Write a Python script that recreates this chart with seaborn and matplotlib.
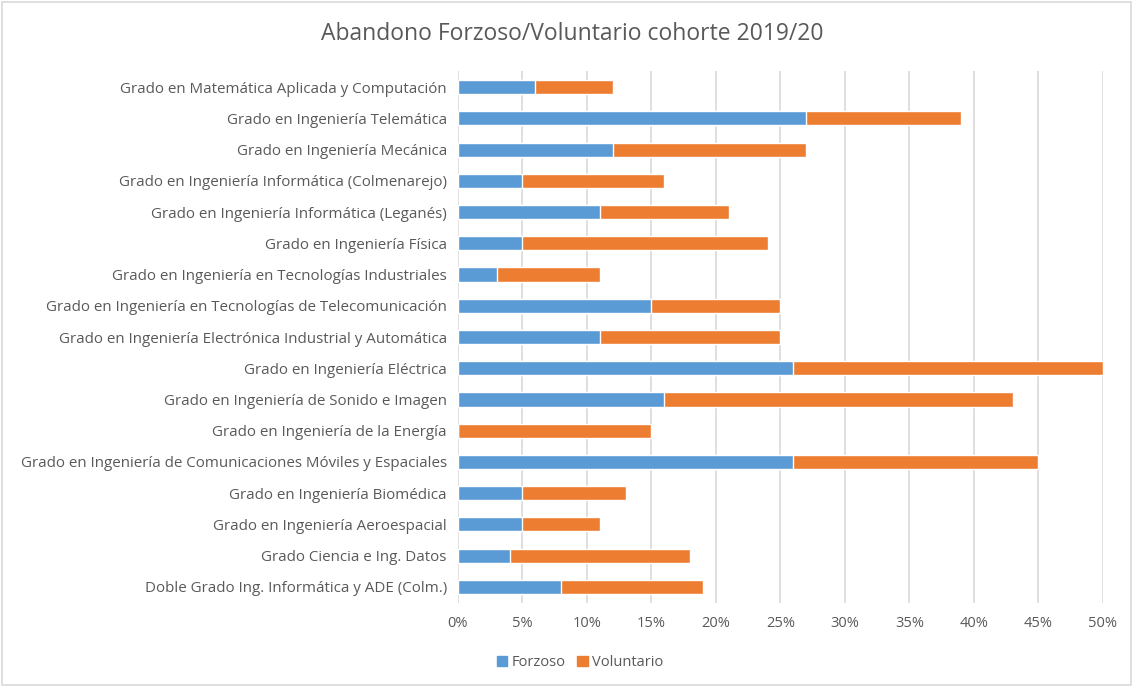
import numpy as np
import pandas as pd
import matplotlib
matplotlib.use("Agg")
import matplotlib.pyplot as plt
from matplotlib.patches import Rectangle, Patch
from matplotlib.ticker import PercentFormatter
import seaborn as sns

grados = [
    "Grado en Matemática Aplicada y Computación",
    "Grado en Ingeniería Telemática",
    "Grado en Ingeniería Mecánica",
    "Grado en Ingeniería Informática (Colmenarejo)",
    "Grado en Ingeniería Informática (Leganés)",
    "Grado en Ingeniería Física",
    "Grado en Ingeniería en Tecnologías Industriales",
    "Grado en Ingeniería en Tecnologías de Telecomunicación",
    "Grado en Ingeniería Electrónica Industrial y Automática",
    "Grado en Ingeniería Eléctrica",
    "Grado en Ingeniería de Sonido e Imagen",
    "Grado en Ingeniería de la Energía",
    "Grado en Ingeniería de Comunicaciones Móviles y Espaciales",
    "Grado en Ingeniería Biomédica",
    "Grado en Ingeniería Aeroespacial",
    "Grado Ciencia e Ing. Datos",
    "Doble Grado Ing. Informática y ADE (Colm.)",
]
forzoso = [6, 27, 12, 5, 11, 5, 3, 15, 11, 26, 16, 0, 26, 5, 5, 4, 8]
voluntario = [6, 12, 15, 11, 10, 19, 8, 10, 14, 24, 27, 15, 19, 8, 6, 14, 11]

AZUL = "#5b9bd5"
NARANJA = "#ed7d31"
GRIS = "#595959"

df = pd.DataFrame({"grado": grados, "Forzoso": forzoso, "Voluntario": voluntario})
df["total"] = df["Forzoso"] + df["Voluntario"]

sns.set_style("white")
plt.rcParams["font.family"] = ["Open Sans", "DejaVu Sans"]

fig = plt.figure(figsize=(11.33, 6.87), dpi=100)
ax = fig.add_axes([0.4042, 0.1229, 0.5693, 0.7731])

# stacked: draw the total in orange, then forzoso on top in blue
sns.barplot(data=df, y="grado", x="total", color=NARANJA, orient="h",
            width=0.45, saturation=1, ax=ax, zorder=2)
sns.barplot(data=df, y="grado", x="Forzoso", color=AZUL, orient="h",
            width=0.45, saturation=1, ax=ax, zorder=3)

ax.set_xlim(0, 50)
ax.set_xticks(np.arange(0, 51, 5))
ax.xaxis.set_major_formatter(PercentFormatter(decimals=0))
ax.grid(axis="x", color="#d9d9d9", linewidth=1.2, zorder=0)
ax.set_axisbelow(True)
for s in ax.spines.values():
    s.set_visible(False)
ax.set_xlabel("")
ax.set_ylabel("")
ax.tick_params(axis="y", length=0, labelsize=10.9, colors=GRIS, pad=8)
ax.tick_params(axis="x", length=0, labelsize=10.5, colors=GRIS, pad=10)

fig.suptitle("Abandono Forzoso/Voluntario cohorte 2019/20", x=0.505, y=0.968,
             fontsize=16.5, color=GRIS)

handles = [Patch(color=AZUL, label="Forzoso"), Patch(color=NARANJA, label="Voluntario")]
fig.legend(handles=handles, loc="center", bbox_to_anchor=(0.512, 0.035), ncol=2,
           frameon=False, fontsize=10.5, labelcolor=GRIS, handlelength=0.7,
           handleheight=0.7, handletextpad=0.3, columnspacing=0.8)

fig.patches.append(Rectangle((0.002, 0.003), 0.996, 0.994, transform=fig.transFigure,
                             fill=False, edgecolor="#d9d9d9", linewidth=1.2))

fig.savefig("out.png", dpi=100, facecolor="white")
